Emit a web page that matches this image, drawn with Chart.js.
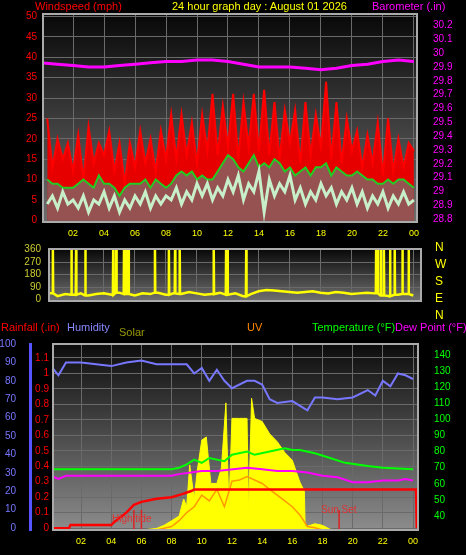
<!DOCTYPE html>
<html><head><meta charset="utf-8">
<script src="https://cdn.jsdelivr.net/npm/chart.js@4"></script>
<style>
body{margin:0;background:#000;width:466px;height:555px;overflow:hidden;position:relative;font-family:"Liberation Sans",Arial,sans-serif}
canvas{position:absolute;left:0}
.t{position:absolute;font-size:11px;white-space:nowrap;line-height:12px}
</style></head><body>
<canvas id="c1" width="466" height="245" style="top:0"></canvas>
<canvas id="c2" width="466" height="80" style="top:235px"></canvas>
<canvas id="c3" width="466" height="225" style="top:330px"></canvas>
<div class="t" style="left:35px;top:0;color:#f00">Windspeed (mph)</div>
<div class="t" style="left:172px;top:0;color:#ff0">24 hour graph day : August 01 2026</div>
<div class="t" style="left:372px;top:0;color:#f0f">Barometer (.in)</div>
<div class="t" style="left:435px;top:239px;color:#ff0;font-size:12px;line-height:17px">N<br>W<br>S<br>E<br>N</div>
<div class="t" style="left:1px;top:321px;color:#f00">Rainfall (.in)</div>
<div class="t" style="left:67px;top:321px;color:#88f">Humidity</div>
<div class="t" style="left:119px;top:326px;color:#990">Solar</div>
<div class="t" style="left:247px;top:321px;color:#f80">UV</div>
<div class="t" style="left:312px;top:321px;color:#0f0">Temperature (°F)</div>
<div class="t" style="left:395px;top:321px;color:#f0f">Dew Point (°F)</div>
<script>
// ---- top panel data (20-min samples from 00:20 to 24:00)
const gust=[25,13,20,15,19,12, 21,10,23,14,19,16, 22,12,19,9,19,13, 22,14,20,12,22,15, 26,15,26,16,24,14, 26,17,31,16,28,18, 31,15,29,18,31,17, 32,16,29,15,27,19, 27,14,29,16,26,18, 34,15,29,14,25,17, 22,13,21,14,24,11, 25,12,20,13,19,17];
const avgWind=[10,9,9,8,8,8, 9,10,9,8,11,9, 9,8,6,8,9,9, 9,10,8,10,9,8, 9,11,12,11,12,10, 11,10,10,12,14,16, 15,13,12,14,16,13, 14,13,15,14,12,13, 11,12,13,11,13,13, 14,11,13,12,11,11, 12,11,10,10,9,9, 10,9,10,10,9,8];
const speed=[4,6,3,7,4,5, 3,6,2,5,4,7, 3,6,2,5,3,6, 4,7,3,6,4,6, 5,8,4,7,5,9, 6,9,5,8,6,10, 7,11,5,9,7,12, 2,10,6,9,7,11, 5,8,4,7,5,9, 6,8,4,7,5,8, 4,7,3,6,4,7, 3,6,4,7,4,5];
const baroHours=[0,1,2,3,4,5,6,7,8,9,10,11,12,13,14,15,16,17,18,19,20,21,22,23,24];
const baro=[29.93,29.92,29.91,29.90,29.90,29.91,29.92,29.93,29.94,29.94,29.95,29.95,29.94,29.92,29.90,29.90,29.90,29.89,29.88,29.89,29.91,29.92,29.94,29.95,29.94];
// ---- wind direction (half-hourly base + spikes to north)
const dirBase=[30,45,25,40,35,45,30,40,45,35,50,40,30,45,40,50,35,45,40,55,45,35,40,50,35,45,25,40,60,70,65,60,55,50,55,60,50,45,55,50,40,45,50,45,30,25,35,40,30];
const dirSpikes=[0.7,1.9,2.2,2.8,4.6,4.8,5.3,5.4,5.5,5.6,7.3,8.2,8.6,8.9,11.1,11.9,12.0,13.2,21.6,21.7,21.9,22.1,22.5,22.8,23.3,23.7];
// ---- bottom panel
const humHours=[0,0.5,1,2,3,4,5,6,7,8,9,9.5,10,10.5,11,11.5,12,13,13.5,14,14.5,15,16,17,17.5,18,19,20,21,21.5,22,22.5,23,23.5,24];
const humidity=[88,83,90,90,89,88,90,91,89,89,89,84,87,80,86,80,76,80,80,78,70,68,69,64,71,71,70,71,75,72,80,77,84,83,81];
const rainHours=[0,1.2,1.3,4,4.2,5,5.5,6,7,8,8.7,9.3,9.5,24.2,24.25];
const rain=[0,0,0.02,0.02,0.04,0.1,0.15,0.17,0.19,0.2,0.22,0.24,0.25,0.25,0];
const tempHours=[0,8,8.5,9,9.5,10,10.5,11.5,12,13,13.5,14.5,15.5,16,16.5,17.5,18.5,19.5,21,22,24];
const temp=[69,69,70,72,75,73,76,74,78,80,78,80,82,81,81,79,76,73,71,70,69];
const dewHours=[0,0.5,1,8,8.5,10,11,13,14,15,16,17,18,19,20,21,22,23,23.5,24];
const dew=[65,63,65,65,66,68,68,70,69,68,68,67,65,64,61,61,62,62,63,62];
const solarHours=[6,7,7.5,8,8.5,8.8,9,9.2,9.5,9.7,10,10.3,10.6,11,11.3,11.6,11.8,12,12.5,13,13.1,13.3,13.5,14,14.5,15,15.5,16,16.5,16.8,16.85,17.5,18,18.5,19];
const solar=[0,10,30,60,90,200,150,420,200,380,580,600,300,300,400,820,140,720,720,720,100,850,720,700,620,570,500,450,310,250,20,40,30,5,0];
const uvHours=[7,8,8.5,9,9.5,10,10.5,11,11.5,12,12.5,13,13.5,14,14.5,15,15.5,16,16.5,17,17.5,18];
const uv=[0,0.3,0.8,1.5,2,3,2.5,3.5,2,4.2,4.3,4.6,4.3,4,3.5,3,2.5,2,1.3,0.3,0.2,0];
const tickHours=[2,4,6,8,10,12,14,16,18,20,22,24];

const pts=(xs,ys)=>xs.map((x,i)=>({x,y:ys[i]}));
const t20=gust.map((_,i)=>(i+1)/3);
const hourLbl=v=>{const h=Math.round(v)%24;return (h<10?'0':'')+h;};
const F={family:'"Liberation Sans",Arial,sans-serif',size:10};
const grid={color:'#6a6a6a',borderDash:[1,2],drawTicks:false};
function bg(top,bot){return {id:'bg',beforeDraw(c){const a=c.chartArea,x=c.ctx;const g=x.createLinearGradient(0,a.top,0,a.bottom);g.addColorStop(0,top);g.addColorStop(1,bot);x.save();x.fillStyle=g;x.fillRect(a.left,a.top,a.right-a.left,a.bottom-a.top);x.restore();},
 afterDraw(c){const a=c.chartArea,x=c.ctx;x.save();x.strokeStyle='#aaa';x.lineWidth=2;x.strokeRect(a.left,a.top,a.right-a.left,a.bottom-a.top);x.restore();}};}
const fitW=w=>(s)=>{s.width=w;};
const fitH=h=>(s)=>{s.height=h;};
const fixed=arr=>s=>{s.ticks=arr.map(v=>({value:v}));};
function xAxis(min,max,show){return {type:'linear',min,max,afterBuildTicks:fixed(tickHours),
 ticks:{display:show,color:'#ff0',font:{...F,size:9},callback:hourLbl,padding:6,autoSkip:false,maxRotation:0},grid,border:{display:false},afterFit:fitH(show?23:0)};}
const yt=(color,pad,cb)=>({color,font:F,padding:pad,autoSkip:false,callback:cb});

// top chart
new Chart(document.getElementById('c1'),{type:'line',
 data:{datasets:[
  {data:pts(baroHours,baro),yAxisID:'yb',borderColor:'#f0f',borderWidth:3,pointRadius:0,order:0},
  {data:pts(t20,speed),yAxisID:'y',borderColor:'#c8f0c8',borderWidth:3,pointRadius:0,order:1},
  {data:pts(t20,avgWind),yAxisID:'y',borderColor:'#2c2',backgroundColor:'rgba(115,115,115,0.7)',fill:'origin',borderWidth:2,pointRadius:0,order:2},
  {data:pts(t20,gust),yAxisID:'y',borderColor:'#f00',backgroundColor:'#e60000',fill:'origin',borderWidth:2,pointRadius:0,order:3}]},
 options:{animation:false,responsive:false,plugins:{legend:{display:false},tooltip:{enabled:false}},layout:{padding:{top:10,bottom:0}},
  scales:{x:xAxis(0.06,24.2,true),
   y:{position:'left',min:-0.4,max:50.6,afterBuildTicks:fixed([0,5,10,15,20,25,30,35,40,45,50]),ticks:yt('#f00',6),grid,border:{display:false},afterFit:fitW(43)},
   yb:{position:'right',min:28.779,max:30.283,afterBuildTicks:fixed([28.8,28.9,29,29.1,29.2,29.3,29.4,29.5,29.6,29.7,29.8,29.9,30,30.1,30.2]),ticks:yt('#f0f',8,v=>String(+v.toFixed(1))),grid:{display:false},border:{display:false},afterFit:fitW(49)}}},
 plugins:[bg('#080808','#6e6e6e')]});

// direction chart
const dirPts=[];
dirBase.forEach((v,i)=>dirPts.push({x:i/2,y:v}));
dirSpikes.forEach((t,i)=>{const b=dirBase[Math.round(t*2)];dirPts.push({x:t-0.02,y:b},{x:t,y:360},{x:t+0.02,y:b});});
dirPts.sort((a,b)=>a.x-b.x);
new Chart(document.getElementById('c2'),{type:'line',
 data:{datasets:[{data:dirPts,borderColor:'#ff0',borderWidth:2.5,pointRadius:0}]},
 options:{animation:false,responsive:false,plugins:{legend:{display:false},tooltip:{enabled:false}},layout:{padding:{top:10,bottom:3}},
  scales:{x:xAxis(0.45,24.5,false),
   y:{min:-10,max:365,afterBuildTicks:fixed([0,90,180,270,360]),ticks:yt('#cc3',8),grid,border:{display:false},afterFit:fitW(49)},
   y2:{position:'right',display:true,ticks:{display:false},grid:{display:false},border:{display:false},afterFit:fitW(45)}}},
 plugins:[bg('#080808','#707070')]});

// bottom chart
const marks={id:'marks',afterDatasetsDraw(c){const x=c.ctx,sx=c.scales.x,a=c.chartArea;x.save();x.strokeStyle='#d22';x.fillStyle='#d33';x.font='10px "Liberation Sans",Arial';x.lineWidth=1.5;
 [5.5,6,19.1].forEach(h=>{const p=sx.getPixelForValue(h);x.beginPath();x.moveTo(p,a.bottom-20);x.lineTo(p,a.bottom);x.stroke();});
 x.fillText('High tide',sx.getPixelForValue(4.05),a.bottom-8);x.fillText('Sun Set',sx.getPixelForValue(17.9),a.bottom-17);x.restore();}};
new Chart(document.getElementById('c3'),{type:'line',
 data:{datasets:[
  {data:pts(humHours,humidity),yAxisID:'yh',borderColor:'#77f',borderWidth:2,pointRadius:0,order:0},
  {data:pts(rainHours,rain),yAxisID:'yr',borderColor:'#f00',borderWidth:2.5,pointRadius:0,order:1},
  {data:pts(tempHours,temp),yAxisID:'yt',borderColor:'#0f0',borderWidth:2,pointRadius:0,order:2},
  {data:pts(dewHours,dew),yAxisID:'yt',borderColor:'#f0f',borderWidth:2,pointRadius:0,order:3},
  {data:pts(uvHours,uv),yAxisID:'yu',borderColor:'#f90',borderWidth:1.5,pointRadius:0,order:4},
  {data:pts(solarHours,solar),yAxisID:'ys',borderColor:'#ff0',backgroundColor:'#ff0',fill:'origin',borderWidth:1,pointRadius:0,order:5}]},
 options:{animation:false,responsive:false,plugins:{legend:{display:false},tooltip:{enabled:false}},layout:{padding:{top:12,bottom:2}},
  scales:{x:xAxis(0.14,24.33,true),
   yh:{position:'left',weight:2,min:-1,max:100,afterBuildTicks:fixed([0,10,20,30,40,50,60,70,80,90,100]),ticks:yt('#77f',6),grid:{display:false},border:{color:'#55f',width:3},afterFit:fitW(30)},
   yr:{position:'left',weight:1,min:-0.012,max:1.19,afterBuildTicks:fixed([0,0.1,0.2,0.3,0.4,0.5,0.6,0.7,0.8,0.9,1,1.1]),ticks:yt('#f00',4,v=>String(+v.toFixed(1))),grid,border:{display:false},afterFit:fitW(23)},
   yt:{position:'right',min:31.3,max:146.8,afterBuildTicks:fixed([40,50,60,70,80,90,100,110,120,130,140]),ticks:yt('#0f0',8),grid:{display:false},border:{color:'#0c0',width:2},afterFit:fitW(48)},
   ys:{display:false,min:0,max:1200},
   yu:{display:false,min:0,max:16}}},
 plugins:[bg('#0c0c0c','#8c8c8c'),marks]});
</script>
</body></html>
